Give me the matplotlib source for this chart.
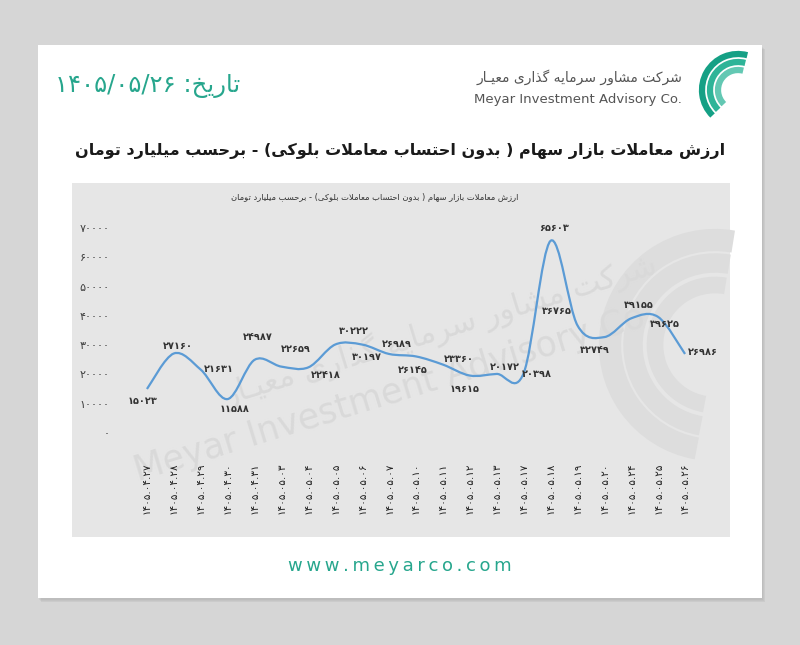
import re
import numpy as np
import matplotlib
matplotlib.use('Agg')
import matplotlib.pyplot as plt
from matplotlib.patches import Rectangle, Arc, PathPatch
from matplotlib.path import Path

# --- data ---
dates = ['۱۴۰۵.۰۴.۲۷', '۱۴۰۵.۰۴.۲۸', '۱۴۰۵.۰۴.۲۹', '۱۴۰۵.۰۴.۳۰', '۱۴۰۵.۰۴.۳۱',
         '۱۴۰۵.۰۵.۰۳', '۱۴۰۵.۰۵.۰۴', '۱۴۰۵.۰۵.۰۵', '۱۴۰۵.۰۵.۰۶', '۱۴۰۵.۰۵.۰۷',
         '۱۴۰۵.۰۵.۱۰', '۱۴۰۵.۰۵.۱۱', '۱۴۰۵.۰۵.۱۲', '۱۴۰۵.۰۵.۱۳', '۱۴۰۵.۰۵.۱۷',
         '۱۴۰۵.۰۵.۱۸', '۱۴۰۵.۰۵.۱۹', '۱۴۰۵.۰۵.۲۰', '۱۴۰۵.۰۵.۲۴', '۱۴۰۵.۰۵.۲۵',
         '۱۴۰۵.۰۵.۲۶']
values = [15023, 27160, 21631, 11588, 24987, 22659, 22418, 30222, 30197, 26989,
          26145, 23360, 19615, 20172, 20398, 65603, 36765, 32749, 39155, 39625, 26986]
y_ticks = [0, 10000, 20000, 30000, 40000, 50000, 60000, 70000]

title = 'ارزش معاملات بازار سهام ( بدون احتساب معاملات بلوکی) - برحسب میلیارد تومان'
date_text = 'تاریخ: ۱۴۰۵/۰۵/۲۶'
company_fa = 'شرکت مشاور سرمایه گذاری معیـار'
company_en = 'Meyar Investment Advisory Co.'
site = 'www.meyarco.com'

# label offsets in pixels (dx, dy) for each value label
label_off = [(-4, -12), (4, 7), (18, 1), (7, -10), (3, 23), (14, 18), (17, -8),
             (19, 13), (5, -12), (8, 10), (-3, -14), (16, 6), (-5, -13), (8, 7),
             (13, -1), (4, 13), (-21, 14), (-9, -13), (8, 13), (7, -7), (18, 2)]

# --- tiny persian shaper (matplotlib has no arabic shaping) ---
RIGHT = {'ا': '\uFE8D\uFE8E', 'د': '\uFEA9\uFEAA', 'ذ': '\uFEAB\uFEAC',
         'ر': '\uFEAD\uFEAE', 'ز': '\uFEAF\uFEB0', 'و': '\uFEED\uFEEE',
         'لا': '\uFEFB\uFEFC'}
DUAL = {'ب': '\uFE8F\uFE90\uFE91\uFE92', 'ت': '\uFE95\uFE96\uFE97\uFE98',
        'ح': '\uFEA1\uFEA2\uFEA3\uFEA4', 'خ': '\uFEA5\uFEA6\uFEA7\uFEA8',
        'س': '\uFEB1\uFEB2\uFEB3\uFEB4', 'ش': '\uFEB5\uFEB6\uFEB7\uFEB8',
        'ع': '\uFEC9\uFECA\uFECB\uFECC', 'ل': '\uFEDD\uFEDE\uFEDF\uFEE0',
        'م': '\uFEE1\uFEE2\uFEE3\uFEE4', 'ن': '\uFEE5\uFEE6\uFEE7\uFEE8',
        'ه': '\uFEE9\uFEEA\uFEEB\uFEEC', 'ی': '\uFBFC\uFBFD\uFBFE\uFBFF',
        'ک': '\uFB8E\uFB8F\uFB90\uFB91', 'گ': '\uFB92\uFB93\uFB94\uFB95',
        'ـ': '\u0640' * 4}


def shape(text):
    units = []
    i = 0
    while i < len(text):
        if text[i] == 'ل' and i + 1 < len(text) and text[i + 1] == 'ا':
            units.append('لا')
            i += 2
        else:
            units.append(text[i])
            i += 1
    out = []
    for k, u in enumerate(units):
        if u in RIGHT or u in DUAL:
            prev = units[k - 1] if k > 0 else None
            nxt = units[k + 1] if k + 1 < len(units) else None
            jp = prev in DUAL
            jn = u in DUAL and (nxt in DUAL or nxt in RIGHT)
            forms = DUAL.get(u) or RIGHT[u]
            if jp and jn:
                out.append(forms[3])
            elif jp:
                out.append(forms[1])
            elif jn:
                out.append(forms[2])
            else:
                out.append(forms[0])
        else:
            out.append(u)
    return ''.join(out)


def rtl(text):
    s = shape(text)
    tokens = re.findall(r'[0-9\u06F0-\u06F9A-Za-z][0-9\u06F0-\u06F9A-Za-z/.]*|.', s)
    mirror = {'(': ')', ')': '('}
    return ''.join(mirror.get(t, t) for t in reversed(tokens))


def fa(n):
    return str(n).translate(str.maketrans('0123456789', '۰۱۲۳۴۵۶۷۸۹'))


plt.rcParams['font.family'] = ['DejaVu Sans']
teal = '#27a68d'

fig = plt.figure(figsize=(8, 6.45), dpi=100)
fig.patch.set_facecolor('#d6d6d6')

# decoration layer in pixel coords (y down)
deco = fig.add_axes([0, 0, 1, 1])
deco.set_xlim(0, 800)
deco.set_ylim(645, 0)
deco.axis('off')
deco.set_zorder(-1)

for k, a in enumerate([0.08, 0.08, 0.1]):
    deco.add_patch(Rectangle((38 + k + 1, 45 + k + 2), 724, 553, color='#707070', alpha=a, lw=0))
deco.add_patch(Rectangle((38, 45), 724, 553, color='white', lw=0))
deco.add_patch(Rectangle((72, 183), 658, 354, color='#e6e6e6', lw=0))

# watermark in the chart panel
for r, w in [(105, 16), (82, 14), (60, 12)]:
    deco.add_patch(Arc((715, 345), 2 * r, 2 * r, theta1=100, theta2=280,
                       color='#dddddd', lw=w, zorder=2))
deco.text(440, 330, rtl(company_fa), fontsize=22, color='#d9d9d9', rotation=17,
          ha='center', va='center', zorder=2)
deco.text(395, 392, company_en, fontsize=25, color='#d9d9d9', rotation=17,
          ha='center', va='center', zorder=2)

# header
deco.text(55, 86, rtl(date_text), fontsize=17.5, color=teal, ha='left', va='center')
deco.text(682, 77, rtl(company_fa), fontsize=10, color='#555555', ha='right', va='center')
deco.text(682, 100, company_en, fontsize=9.5, color='#555555', ha='right', va='center')
for r, c in [(36, '#15a085'), (28, '#2eb498'), (20, '#63c8b3')]:
    deco.add_patch(Arc((738, 90), 2 * r, 2 * r, theta1=135, theta2=285, color=c, lw=4.5))

deco.text(725, 151, rtl(title), fontsize=11.5, fontweight='bold', color='#1a1a1a',
          ha='right', va='center')
deco.text(375, 197, rtl(title), fontsize=6, color='#333333', ha='center', va='center')
deco.text(400, 566, '\u2009'.join(site), fontsize=13, color=teal, ha='center', va='center')

# chart
ax = fig.add_axes([133.5 / 800, 212 / 645, 565 / 800, 205 / 645])
ax.patch.set_alpha(0)
n = len(values)
x = np.arange(n)
pts = np.column_stack([x, values]).astype(float)
verts = [pts[0]]
codes = [Path.MOVETO]
for i in range(n - 1):
    p0 = pts[max(i - 1, 0)]
    p1 = pts[i]
    p2 = pts[i + 1]
    p3 = pts[min(i + 2, n - 1)]
    verts += [p1 + (p2 - p0) / 6, p2 - (p3 - p1) / 6, p2]
    codes += [Path.CURVE4] * 3
ax.add_patch(PathPatch(Path(verts, codes), fill=False, edgecolor='#5b9bd5', lw=1.6))

for i, v in enumerate(values):
    ax.annotate(fa(v), (i, v), xytext=label_off[i], textcoords='offset pixels',
                ha='center', va='center', fontsize=7, fontweight='bold', color='#333333')

ax.set_xlim(-0.5, n - 0.5)
ax.set_ylim(0, 70000)
ax.set_yticks(y_ticks)
ax.set_yticklabels([fa(v) for v in y_ticks])
ax.set_xticks(x)
ax.set_xticklabels(dates, rotation=90)
ax.tick_params(axis='y', length=0, pad=17, labelsize=8, labelcolor='#404040')
ax.tick_params(axis='x', length=0, pad=21, labelsize=7.5, labelcolor='#222222')
for s in ax.spines.values():
    s.set_visible(False)

fig.savefig('out.png', dpi=100)
